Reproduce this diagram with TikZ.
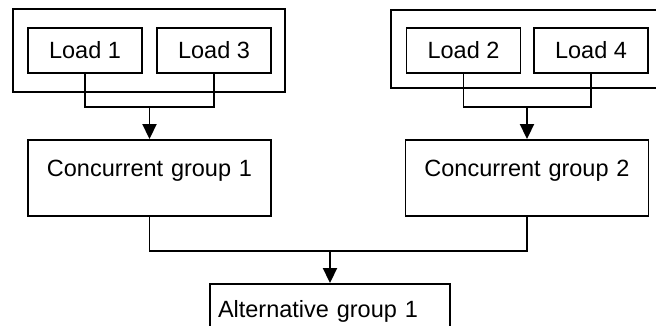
\documentclass[tikz,border=0pt]{standalone}
\usepackage{fontspec}
\setmainfont{Liberation Sans}
\usepackage{tikz}
\usetikzlibrary{positioning, arrows.meta}

\tikzset{
	box/.style={draw, line width=1.9pt, inner sep=0pt},
	loadbox/.style={box, minimum width=114pt, minimum height=45pt},
	groupbox/.style={box, text width=243pt, align=center, text height=36pt, text depth=40pt},
	altbox/.style={box, inner xsep=8pt, text width=224pt, align=left, text height=33pt, text depth=43pt},
	wire/.style={line width=1.9pt},
	flow/.style={line width=1.9pt, -{Triangle[length=15pt, width=14pt]}}
}

\begin{document}
\begin{tikzpicture}[x=1pt, y=-1pt, font=\fontsize{23.5}{28}\selectfont]
	\clip (0, 0) rectangle (656, 326);
	
	\node[box, minimum width=272pt, minimum height=83pt] (setA) at (149, 50.5) {};
	\node[box, minimum width=280pt, minimum height=78pt] (setB) at (531, 49) {};
	
	\foreach \n/\x in {1/85,3/214,2/463.5,4/591} {
		\node[loadbox] (load\n) at (\x, 50.5) {Load \n};
	};
	
	\node[groupbox] (cg1) at (149.5, 178) {Concurrent group 1};
	\node[groupbox] (cg2) at (527, 178) {Concurrent group 2};
	\node[altbox] (alt) at (330, 322) {Alternative group 1};
	
	\coordinate (joinA) at (149.5, 107);
	\coordinate (joinB) at (527, 107);
	\coordinate (joinC) at (330, 251);
	
	\draw[wire] (load1.south) |- (joinA) -| (load3.south);
	\draw[wire] (load2.south) |- (joinB) -| (load4.south);
	\draw[wire] (cg1.south) |- (joinC) -| (cg2.south);
	
	\draw[flow] (joinA) -- (cg1.north);
	\draw[flow] (joinB) -- (cg2.north);
	\draw[flow] (joinC) -- (alt.north);
\end{tikzpicture}
\end{document}
